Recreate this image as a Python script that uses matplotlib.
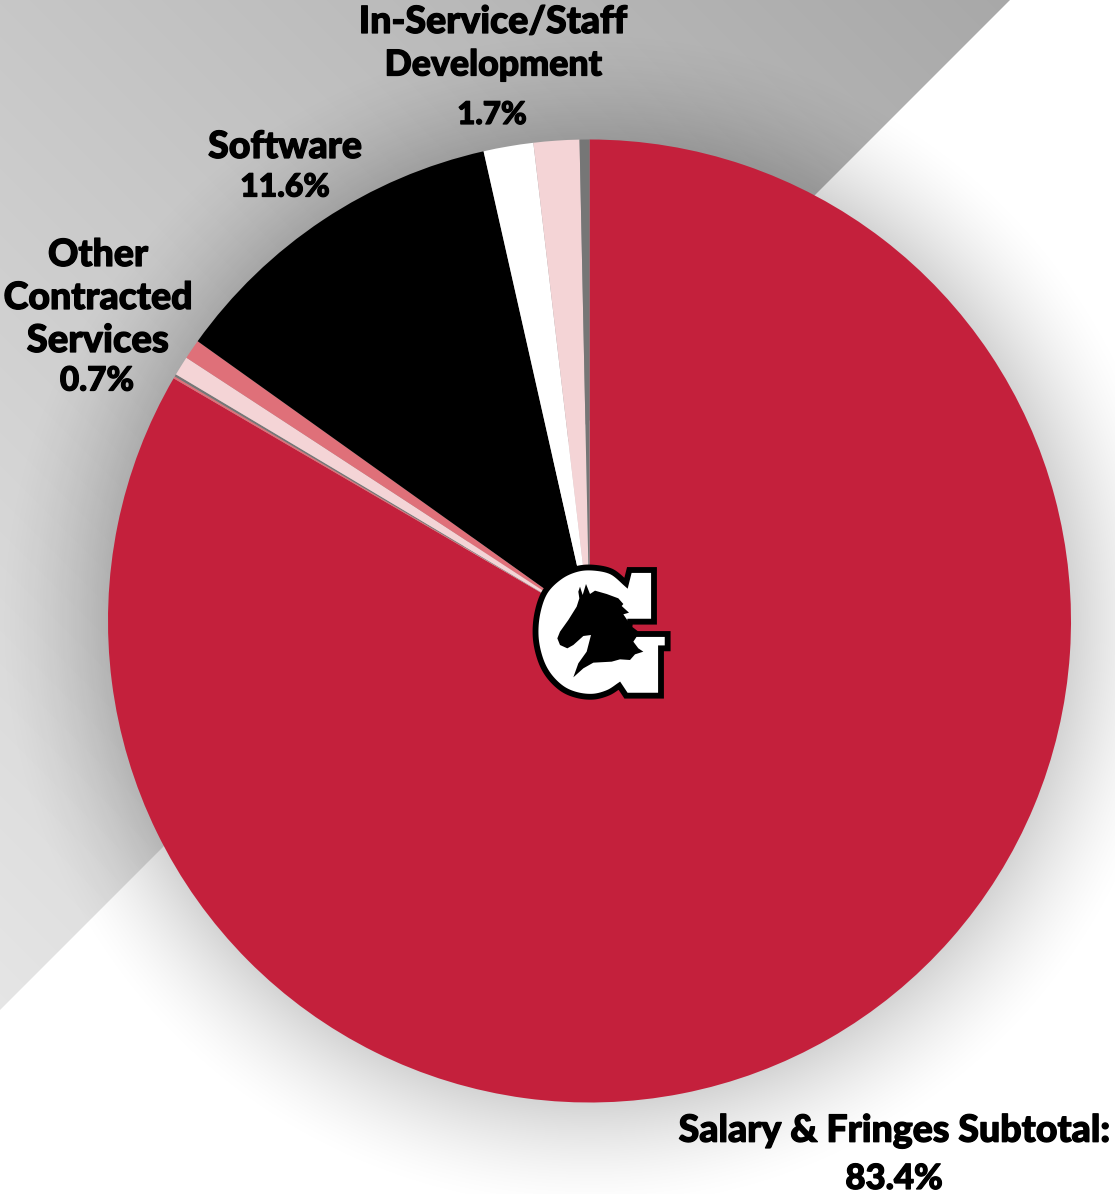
import numpy as np
import matplotlib
matplotlib.use('Agg')
import matplotlib.pyplot as plt
import matplotlib.patheffects as pe
from matplotlib.patches import Polygon

# Data
slice_names = ['Salary & Fringes Subtotal', 'Sliver A', 'Sliver B', 'Other Contracted Services',
               'Sliver C', 'Software', 'Sliver D', 'In-Service/Staff Development', 'Sliver E']
slice_values = [83.4, 0.07, 0.08, 0.65, 0.66, 11.6, 1.67, 1.53, 0.33]
slice_colors = ['#C4203C', '#DF7079', '#767676', '#F4D4D6', '#DF7079', '#000000', '#FFFFFF', '#F4D4D6', '#767676']

W, H = 1115, 1194
CX, CY, R = 589.5, 621.0, 481.5

fig = plt.figure(figsize=(W/100, H/100), dpi=100)
bg = fig.add_axes([0, 0, 1, 1])
bg.set_xlim(0, W); bg.set_ylim(H, 0); bg.axis('off')

yy, xx = np.mgrid[0:H, 0:W]
t = np.clip((xx - yy + 1010) / 2020, 0, 1)
band = 0.90 - 0.24 * t
rgba = np.dstack([band, band, band, np.ones_like(band)])
img = bg.imshow(rgba, extent=(0, W, H, 0), zorder=1, aspect='auto')
clip = Polygon([(0, 0), (1010, 0), (0, 1010)], transform=bg.transData, fc='none', ec='none')
bg.add_patch(clip)
img.set_clip_path(clip)

d = np.hypot(xx - CX, yy - CY)
a = np.clip(1 - (d - R) / 115, 0, 1) ** 1.6 * 0.17
shadow = np.zeros((H, W, 4)); shadow[..., 3] = a
bg.imshow(shadow, extent=(0, W, H, 0), zorder=2, aspect='auto')
bg.set_xlim(0, W); bg.set_ylim(H, 0)

ax = fig.add_axes([(CX-R)/W, 1-(CY+R)/H, 2*R/W, 2*R/H])
ax.pie(slice_values, colors=slice_colors, startangle=90, counterclock=False, radius=1,
       wedgeprops=dict(linewidth=0))
ax.set_xlim(-1, 1); ax.set_ylim(-1, 1); ax.set_aspect('equal'); ax.axis('off')

ov = fig.add_axes([0, 0, 1, 1]); ov.set_xlim(0, W); ov.set_ylim(H, 0); ov.axis('off'); ov.patch.set_alpha(0)
font = dict(family=['Lato', 'DejaVu Sans'], weight='black', color='black', ha='center', va='center',
            path_effects=[pe.withStroke(linewidth=0.9, foreground='black')])
labels = [(493, 22, 'In-Service/Staff', 27), (493, 65, 'Development', 25.7), (492, 115, '1.7%', 22.5),
          (285, 147, 'Software', 27), (285, 187, '11.6%', 23),
          (98, 255, 'Other', 27), (98, 298, 'Contracted', 27), (98, 341, 'Services', 27.5), (97, 381, '0.7%', 24),
          (894, 1131, 'Salary & Fringes Subtotal:', 27), (894, 1179, '83.4%', 25)]
for x, y, s, fs in labels:
    ov.text(x, y, s, fontsize=fs, **font)

def smooth(pts, n=8):
    p = np.array(pts, float)
    out = []
    q = np.vstack([p[0], p, p[-1]])
    for i in range(1, len(q) - 2):
        for u in np.linspace(0, 1, n, endpoint=False):
            out.append(0.5 * (2*q[i] + (q[i+1]-q[i-1])*u + (2*q[i-1]-5*q[i]+4*q[i+1]-q[i+2])*u**2
                              + (3*q[i]-q[i-1]-3*q[i+1]+q[i+2])*u**3))
    out.append(p[-1])
    return np.array(out)

def to_px(p):
    p = np.asarray(p, float)
    return np.column_stack([480 + p[:, 0] / 3, 520 + p[:, 1] / 3])

g_square = [(438,190),(448,150),(522,150),(522,305),(450,305),(448,325),(470,342),(563,342),(563,385),(543,385),
            (543,527),(438,527),(418,497)]
g_curve = [(418,497),(385,518),(340,530),(290,525),(245,505),(205,465),(180,415),(167,350),(172,280),(195,215),
           (240,170),(290,147),(340,143),(395,155),(438,190)]
g_outline = np.vstack([np.array(g_square, float), smooth(g_curve)])
horse = [(295,215),(300,200),(308,225),(318,192),(330,222),(345,212),(380,222),(415,235),(430,252),(425,258),(447,278),
         (430,283),(445,305),(470,350),(460,365),(475,385),(490,395),(465,403),(450,420),(420,418),(395,425),(340,428),
         (310,445),(280,472),(295,430),(320,395),(333,345),(310,348),(280,375),(262,385),(240,375),(232,355),(240,335),
         (265,300),(290,260),(298,235)]
ov.add_patch(Polygon(to_px(g_outline), closed=True, fc='white', ec='black', lw=4.2, joinstyle='miter', zorder=5))
ov.add_patch(Polygon(to_px(horse), closed=True, fc='black', ec='none', zorder=6))

fig.savefig('out.png', dpi=100)
